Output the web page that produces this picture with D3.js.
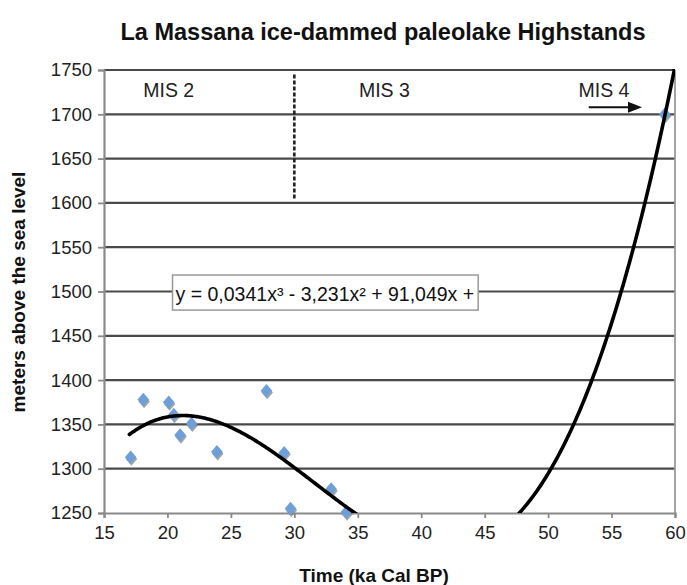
<!DOCTYPE html>
<html>
<head>
<meta charset="utf-8">
<script src="https://cdn.jsdelivr.net/npm/d3@7"></script>
<style>
  body { margin: 0; background: #fff; }
  svg { display: block; font-family: "Liberation Sans", Arial, Helvetica, sans-serif; }
</style>
</head>
<body>
<svg id="chart" width="687" height="585"></svg>
<script>
// Highstand samples: age (ka cal BP) and lake level (m a.s.l.)
const ageKa     = [17.1, 18.1, 20.1, 20.5, 21.0, 21.9, 23.9, 27.8, 29.2, 29.7, 32.9, 34.1, 59.2];
const elevation = [1313, 1378, 1375, 1361, 1338, 1351, 1319, 1388, 1318, 1255, 1277, 1251, 1700];

const xTicks = [15, 20, 25, 30, 35, 40, 45, 50, 55, 60];
const yTicks = [1250, 1300, 1350, 1400, 1450, 1500, 1550, 1600, 1650, 1700, 1750];

// Polynomial trend (constant, x, x², x³) and its printed label
const trendCoeffs = [557, 91.049, -3.231, 0.0341];
const trendRange = [17, 60];
const trendLabel = "y = 0,0341x³ - 3,231x² + 91,049x +";

// Marine isotope stages
const stageNames = ["MIS 2", "MIS 3", "MIS 4"];
const stageLabelAge = [20.1, 37.1, 54.4];
const stageBoundaryAge = 30;
const stageBoundaryTop = 1745, stageBoundaryBottom = 1605;

const svg = d3.select("#chart");
const m = { left: 104, right: 675, top: 70, bottom: 513 };

const x = d3.scaleLinear().domain([15, 60]).range([m.left, m.right]);
const y = d3.scaleLinear().domain([1250, 1750]).range([m.bottom, m.top]);

// Title
svg.append("text")
  .attr("x", 383).attr("y", 40)
  .attr("text-anchor", "middle")
  .attr("font-weight", "bold").attr("font-size", 23.5)
  .attr("fill", "#111")
  .text("La Massana ice-dammed paleolake Highstands");

// Horizontal gridlines
svg.append("g").selectAll("line")
  .data(yTicks.filter(v => v > 1250))
  .join("line")
  .attr("x1", m.left).attr("x2", m.right)
  .attr("y1", d => y(d)).attr("y2", d => y(d))
  .attr("stroke", "#4a4a4a").attr("stroke-width", 2.2);

// Right frame edge
svg.append("line")
  .attr("x1", m.right).attr("x2", m.right)
  .attr("y1", m.top).attr("y2", m.bottom)
  .attr("stroke", "#9a9a9a").attr("stroke-width", 1.8);

// Axes
const yAxis = svg.append("g")
  .attr("transform", `translate(${m.left},0)`)
  .call(d3.axisLeft(y).tickValues(yTicks).tickFormat(d3.format("d")).tickSize(6).tickPadding(6));
const xAxis = svg.append("g")
  .attr("transform", `translate(0,${m.bottom})`)
  .call(d3.axisBottom(x).tickValues(xTicks).tickFormat(d3.format("d")).tickSize(5).tickPadding(8));

[yAxis, xAxis].forEach(g => {
  g.select(".domain").attr("stroke", "#8a8a8a").attr("stroke-width", 2.2);
  g.selectAll(".tick line").attr("stroke", "#8a8a8a").attr("stroke-width", 1.8);
  g.selectAll(".tick text")
    .attr("font-family", "'Liberation Sans', Arial, sans-serif")
    .attr("font-size", 18.5).attr("fill", "#222");
});

// Axis titles
svg.append("text")
  .attr("transform", "translate(25,292) rotate(-90)")
  .attr("text-anchor", "middle")
  .attr("font-weight", "bold").attr("font-size", 19)
  .attr("fill", "#111")
  .text("meters above the sea level");

svg.append("text")
  .attr("x", 374).attr("y", 582)
  .attr("text-anchor", "middle")
  .attr("font-weight", "bold").attr("font-size", 19)
  .attr("fill", "#111")
  .text("Time (ka Cal BP)");

// Stage boundary
svg.append("line")
  .attr("x1", x(stageBoundaryAge)).attr("x2", x(stageBoundaryAge))
  .attr("y1", y(stageBoundaryTop)).attr("y2", y(stageBoundaryBottom))
  .attr("stroke", "#222").attr("stroke-width", 2.6)
  .attr("stroke-dasharray", "4,2");

// Stage labels
svg.append("g").selectAll("text")
  .data(stageNames)
  .join("text")
  .attr("x", (d, i) => x(stageLabelAge[i]))
  .attr("y", y(1719.5))
  .attr("text-anchor", "middle")
  .attr("font-size", 19.5).attr("fill", "#222")
  .text(d => d);

// Arrow pointing towards older ages
const arrowFrom = 53.2, arrowTo = 57.4, arrowLevel = 1708;
svg.append("line")
  .attr("x1", x(arrowFrom)).attr("x2", x(arrowTo) - 12)
  .attr("y1", y(arrowLevel)).attr("y2", y(arrowLevel))
  .attr("stroke", "#111").attr("stroke-width", 2);
svg.append("path")
  .attr("d", `M${x(arrowTo)},${y(arrowLevel)} l-14,-5.5 l0,11 z`)
  .attr("fill", "#111");

// Clip for the trend curve
svg.append("clipPath").attr("id", "plotClip")
  .append("rect")
  .attr("x", m.left).attr("y", m.top - 1)
  .attr("width", m.right - m.left).attr("height", m.bottom - m.top + 1);

// Markers (diamonds with a soft shadow)
const pts = ageKa.map((a, i) => ({ a, h: elevation[i] }));
const diamond = "M0,-6.8 L5.8,0 L0,6.8 L-5.8,0 Z";
const mk = svg.append("g");
mk.selectAll(".shadow")
  .data(pts).join("path")
  .attr("class", "shadow")
  .attr("d", diamond)
  .attr("transform", d => `translate(${x(d.a) + 0.8},${y(d.h) + 1.8})`)
  .attr("fill", "#7d7d7d").attr("opacity", 0.7);
mk.selectAll(".pt")
  .data(pts).join("path")
  .attr("class", "pt")
  .attr("d", diamond)
  .attr("transform", d => `translate(${x(d.a)},${y(d.h)})`)
  .attr("fill", "#6f9fd8");

// Trend curve
const poly = t => trendCoeffs.reduce((s, c, k) => s + c * Math.pow(t, k), 0);
const tSamples = d3.range(trendRange[0], trendRange[1] + 0.001, 0.1);
svg.append("path")
  .datum(tSamples)
  .attr("clip-path", "url(#plotClip)")
  .attr("d", d3.line().x(t => x(t)).y(t => y(poly(t))))
  .attr("fill", "none").attr("stroke", "#000")
  .attr("stroke-width", 3.6).attr("stroke-linecap", "round");

// Trend equation label
const eqBoxLeft = 20.4, eqBoxTop = 1518.6, eqBoxBottom = 1479;
const eqG = svg.append("g");
const eqText = eqG.append("text")
  .attr("x", x(eqBoxLeft) + 3)
  .attr("y", y(eqBoxBottom) - 9)
  .attr("font-size", 19.5).attr("fill", "#111")
  .text(trendLabel);
const bb = eqText.node().getBBox();
eqG.insert("rect", "text")
  .attr("x", x(eqBoxLeft)).attr("y", y(eqBoxTop))
  .attr("width", bb.width + 7)
  .attr("height", y(eqBoxBottom) - y(eqBoxTop))
  .attr("fill", "#fff").attr("stroke", "#999").attr("stroke-width", 1.5);
</script>
</body>
</html>
